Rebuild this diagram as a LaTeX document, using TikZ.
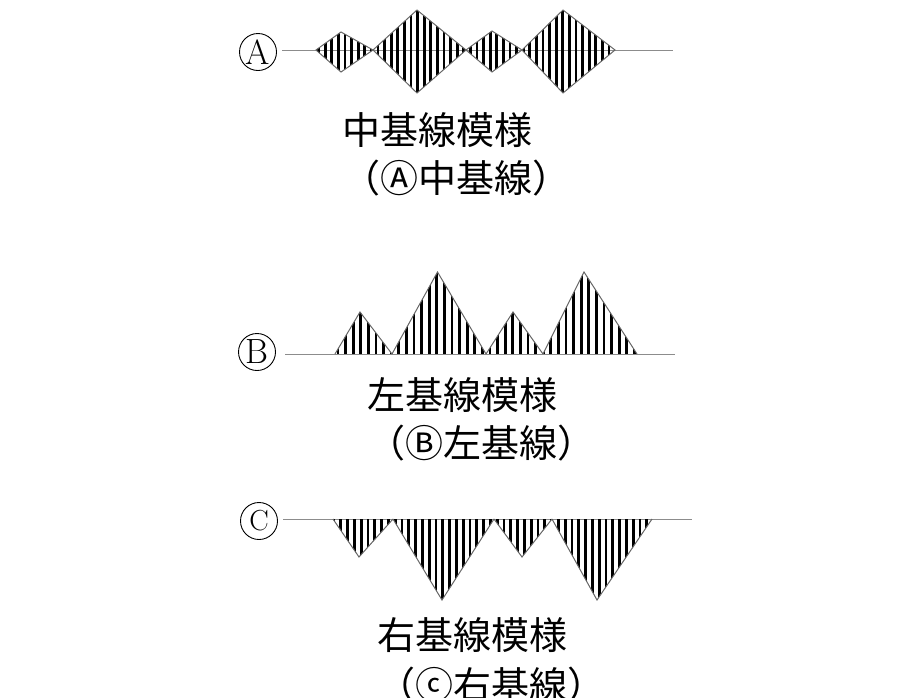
\documentclass[tikz,border=0pt]{standalone}
\usepackage{fontspec}
\newfontfamily\cjk{Noto Sans CJK JP}
\begin{document}
\begin{tikzpicture}[x=1pt,y=-1pt]
\useasboundingbox (0,0) rectangle (921,697);
\tikzset{
  axisline/.style={draw=black!45, line width=1pt},
  outline/.style={draw=black!60, line width=1pt, line join=miter},
  stripe/.style={draw=black, line width=2.8pt},
  lbl/.style={circle, draw=black, line width=0.9pt, minimum size=37pt, inner sep=0pt, font=\fontsize{35}{35}\selectfont},
  captxt/.style={anchor=base west, inner sep=0pt, font=\cjk\fontsize{38}{38}\selectfont}
}
% ---------- A : centre base line ----------
\node[lbl] (la) at (258,52) {A};
\draw[axisline] (282,50) -- (673,50);
\begin{scope}
  \clip (316,50)--(341,32)--(373,50)--(341,72)--cycle
        (373,50)--(417,10)--(466,50)--(417,93)--cycle
        (466,50)--(492,31)--(522,50)--(492,72)--cycle
        (522,50)--(563,10)--(615,50)--(563,93)--cycle;
  \foreach \x in {312,318.6,...,620} \draw[stripe] (\x,0) -- (\x,100);
\end{scope}
\draw[outline] (316,50)--(341,32)--(373,50)--(341,72)--cycle
        (373,50)--(417,10)--(466,50)--(417,93)--cycle
        (466,50)--(492,31)--(522,50)--(492,72)--cycle
        (522,50)--(563,10)--(615,50)--(563,93)--cycle;
\node[captxt] (ta1) at (342,144.5) {中基線模様};
\node[captxt] (ta2) at (342,192.5) {（Ⓐ中基線）};
% ---------- B : left base line ----------
\node[lbl] (lb) at (257,352) {B};
\draw[axisline] (285,354) -- (675,354);
\begin{scope}
  \clip (335,354)--(360,312)--(392,354)--cycle
        (392,354)--(437.5,272)--(486,354)--cycle
        (486,354)--(513,312)--(543,354)--cycle
        (543,354)--(584,272)--(637,354)--cycle;
  \foreach \x in {338,345.6,...,640} \draw[stripe] (\x,260) -- (\x,354);
\end{scope}
\draw[outline] (335,354)--(360,312)--(392,354)
        (392,354)--(437.5,272)--(486,354)
        (486,354)--(513,312)--(543,354)
        (543,354)--(584,272)--(637,354);
\node[captxt] (tb1) at (367,409.5) {左基線模様};
\node[captxt] (tb2) at (367,457.5) {（Ⓑ左基線）};
% ---------- C : right base line ----------
\node[lbl] (lc) at (259,521) {\fontsize{29}{29}\selectfont C};
\draw[axisline] (283,519) -- (692,519);
\begin{scope}
  \clip (333,519)--(359,557)--(393,519)--cycle
        (393,519)--(442,600)--(494,519)--cycle
        (494,519)--(522,557)--(552,519)--cycle
        (552,519)--(597,600)--(652,519)--cycle;
  \foreach \x in {334,340.8,...,655} \draw[stripe] (\x,519) -- (\x,610);
\end{scope}
\draw[outline] (333,519)--(359,557)--(393,519)
        (393,519)--(442,600)--(494,519)
        (494,519)--(522,557)--(552,519)
        (552,519)--(597,600)--(652,519);
\node[captxt] (tc1) at (377,649.5) {右基線模様};
\node[captxt] (tc2) at (377,699.5) {（ⓒ右基線）};
\end{tikzpicture}
\end{document}
